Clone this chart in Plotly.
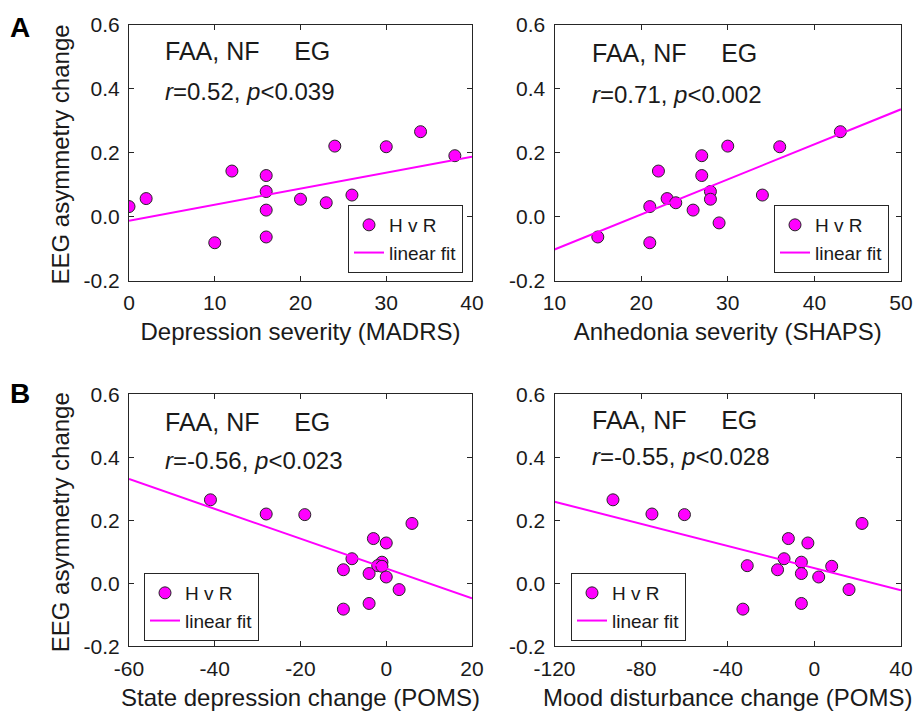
import plotly.graph_objects as go

# ---------------- data ----------------
faa_change = [0.265, 0.220, 0.218, 0.190, 0.142, 0.128, 0.078, 0.067, 0.056, 0.054, 0.043, 0.031, 0.020, -0.020, -0.064, -0.082]
madrs = [34, 24, 30, 38, 12, 16, 16, 26, 2, 20, 23, 0, 16, 32, 16, 10]
shaps = [43, 30, 36, 27, 22, 27, 28, 34, 23, 28, 24, 21, 26, 29, 15, 21]
poms_dep = [-41, -28, -19, 6, -3, 0, -8, -1, -2, -1, -10, -4, 0, 3, -4, -10]
poms_md = [-93, -75, -60, 22, -12, -3, -14, -6, -31, 8, -17, -6, 2, 16, -6, -33]

fit_madrs_x = [0, 40]
fit_madrs_y = [-0.013, 0.187]
fit_shaps_x = [10, 50]
fit_shaps_y = [-0.103, 0.335]
fit_dep_x = [-60, 20]
fit_dep_y = [0.331, -0.048]
fit_md_x = [-120, 40]
fit_md_y = [0.259, -0.022]

stats = ["<i>r</i>=0.52, <i>p</i>&lt;0.039",
         "<i>r</i>=0.71, <i>p</i>&lt;0.002",
         "<i>r</i>=-0.56, <i>p</i>&lt;0.023",
         "<i>r</i>=-0.55, <i>p</i>&lt;0.028"]
x_titles = ["Depression severity (MADRS)", "Anhedonia severity (SHAPS)",
            "State depression change (POMS)", "Mood disturbance change (POMS)"]
x_ticks = [[0, 10, 20, 30, 40], [10, 20, 30, 40, 50],
           [-60, -40, -20, 0, 20], [-120, -80, -40, 0, 40]]
x_ticklabels = [["0", "10", "20", "30", "40"], ["10", "20", "30", "40", "50"],
                ["-60", "-40", "-20", "0", "20"], ["-120", "-80", "-40", "0", "40"]]
y_ticks = [-0.2, 0.0, 0.2, 0.4, 0.6]
y_ticklabels = ["-0.2", "0.0", "0.2", "0.4", "0.6"]
y_title = "EEG asymmetry change"
panel_title = "FAA, NF\u00a0\u00a0\u00a0\u00a0\u00a0EG"
panel_letters = ["A", "B"]
legend_names = ["H v R", "linear fit"]

# ---------------- layout helpers ----------------
W, H = 913, 712
FONT = "Liberation Sans, Arial, Helvetica, sans-serif"
AX = "#262626"
TXT = "#1a1a1a"
MAG = "#FF00FF"

def px(x):
    return x / W

def py(y):
    return 1 - y / H

# pixel boxes of the four axes: (left, right, top, bottom)
boxes = [(129, 472, 24.5, 280.5), (554.5, 901, 24.5, 280.5),
         (129, 472, 394.3, 646.3), (554.5, 901, 394.3, 646.3)]
legend_pos = [(348, 205), (774, 205), (144, 573), (571, 573)]
text_pos = [(163, 51, 91), (590, 53, 94), (163, 422, 460), (590, 420, 456)]

xs_data = [madrs, shaps, poms_dep, poms_md]
fits = [(fit_madrs_x, fit_madrs_y), (fit_shaps_x, fit_shaps_y),
        (fit_dep_x, fit_dep_y), (fit_md_x, fit_md_y)]

fig = go.Figure()
annotations = []
layout = {}
for i in range(4):
    sfx = "" if i == 0 else str(i + 1)
    xa, ya = "x" + sfx, "y" + sfx
    lg = "legend" + sfx
    fig.add_trace(go.Scatter(
        x=xs_data[i], y=faa_change, mode="markers", name=legend_names[0],
        xaxis=xa, yaxis=ya, legend=lg,
        marker=dict(color=MAG, size=12, line=dict(color="#262626", width=1)),
    ))
    fig.add_trace(go.Scatter(
        x=fits[i][0], y=fits[i][1], mode="lines", name=legend_names[1],
        xaxis=xa, yaxis=ya, legend=lg,
        line=dict(color=MAG, width=2),
    ))
    l, r, t, b = boxes[i]
    common = dict(showline=True, linecolor=AX, linewidth=1, mirror="ticks",
                  ticks="inside", ticklen=5, tickwidth=1, tickcolor=AX,
                  showgrid=False, zeroline=False, automargin=False,
                  tickfont=dict(family=FONT, size=21, color=TXT))
    layout["xaxis" + sfx] = dict(
        common, domain=[px(l), px(r)], anchor=ya,
        range=[x_ticks[i][0], x_ticks[i][-1]], tickvals=x_ticks[i],
        ticktext=x_ticklabels[i], ticklabelstandoff=3,
        title=dict(text=x_titles[i], font=dict(family=FONT, size=24, color=TXT),
                   standoff=10),
    )
    layout["yaxis" + sfx] = dict(
        common, domain=[py(b), py(t)], anchor=xa,
        range=[-0.2, 0.6], tickvals=y_ticks, ticktext=y_ticklabels,
        ticklabelstandoff=4,
    )
    lx, ly = legend_pos[i]
    layout[lg] = dict(
        x=px(lx), y=py(ly), xanchor="left", yanchor="top",
        bgcolor="white", bordercolor=AX, borderwidth=1,
        font=dict(family=FONT, size=19, color=TXT),
        tracegroupgap=0,
    )
    tx, ty1, ty2 = text_pos[i]
    annotations.append(dict(x=px(tx), y=py(ty1), xref="paper", yref="paper",
                            text=panel_title, showarrow=False, xanchor="left",
                            yanchor="middle",
                            font=dict(family=FONT, size=25, color=TXT)))
    annotations.append(dict(x=px(tx), y=py(ty2), xref="paper", yref="paper",
                            text=stats[i], showarrow=False, xanchor="left",
                            yanchor="middle",
                            font=dict(family=FONT, size=24, color=TXT)))

for j, (letter, yl) in enumerate(zip(panel_letters, [28, 393])):
    annotations.append(dict(x=px(20), y=py(yl), xref="paper", yref="paper",
                            text="<b>" + letter + "</b>", showarrow=False,
                            xanchor="center", yanchor="middle",
                            font=dict(family=FONT, size=28, color="black")))
    t, b = boxes[2 * j][2], boxes[2 * j][3]
    annotations.append(dict(x=px(60), y=py((t + b) / 2 + 2), xref="paper", yref="paper",
                            text=y_title, showarrow=False, textangle=-90,
                            xanchor="center", yanchor="middle",
                            font=dict(family=FONT, size=24, color=TXT)))

fig.update_layout(
    width=W, height=H, margin=dict(l=0, r=0, t=0, b=0, autoexpand=False),
    paper_bgcolor="white", plot_bgcolor="white",
    showlegend=True, annotations=annotations,
    **layout,
)
fig.write_html("out.html",
               config={"displayModeBar": False},
               post_script="document.body.style.margin='0';"
                           "document.body.style.padding='0';"
                           "document.documentElement.style.overflow='hidden';")
